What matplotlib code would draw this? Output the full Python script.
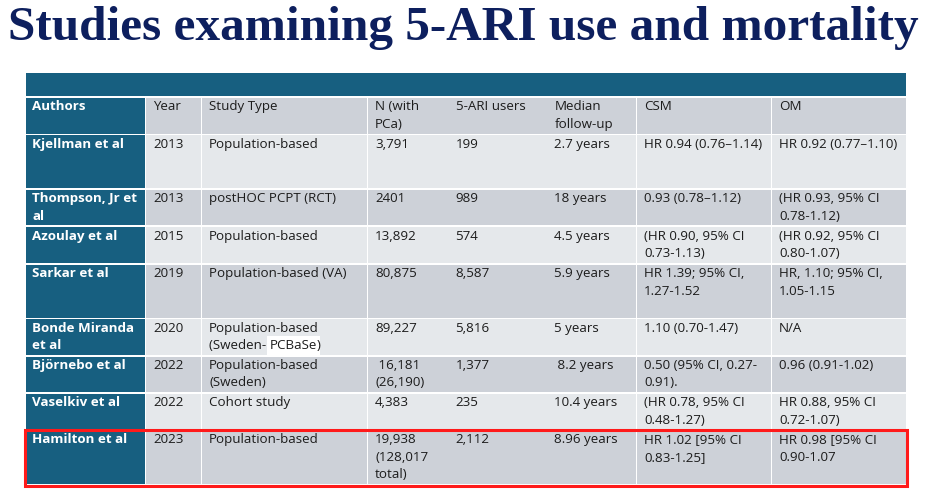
"""Table slide: studies examining 5-ARI use and mortality."""
import matplotlib
matplotlib.use("Agg")
import matplotlib.pyplot as plt
from matplotlib.patches import Rectangle

TITLE = "Studies examining 5-ARI use and mortality"

headers = ["Authors", "Year", "Study Type", "N (with\nPCa)", "5-ARI users",
           "Median\nfollow-up", "CSM", "OM"]
authors = ["Kjellman et al", "Thompson, Jr et\nal", "Azoulay et al", "Sarkar et al",
           "Bonde Miranda\net al", "Björnebo et al", "Vaselkiv et al", "Hamilton et al"]
years = ["2013", "2013", "2015", "2019", "2020", "2022", "2022", "2023"]
study_type = ["Population-based", "postHOC PCPT (RCT)", "Population-based",
              "Population-based (VA)", "Population-based\n(Sweden- [PCBaSe])",
              "Population-based\n(Sweden)", "Cohort study", "Population-based"]
n_pca = ["3,791", "2401", "13,892", "80,875", "89,227", " 16,181\n(26,190)",
         "4,383", "19,938\n(128,017\ntotal)"]
ari_users = ["199", "989", "574", "8,587", "5,816", "1,377", "235", "2,112"]
follow_up = ["2.7 years", "18 years", "4.5 years", "5.9 years", "5 years",
             " 8.2 years", "10.4 years", "8.96 years"]
csm = ["HR 0.94 (0.76–1.14)", "0.93 (0.78–1.12)", "(HR 0.90, 95% CI\n0.73-1.13)",
       "HR 1.39; 95% CI,\n1.27-1.52", "1.10 (0.70-1.47)",
       "0.50 (95% CI, 0.27-\n0.91).", "(HR 0.78, 95% CI\n0.48-1.27)",
       "HR 1.02 [95% CI\n0.83-1.25]"]
om = ["HR 0.92 (0.77–1.10)", "(HR 0.93, 95% CI\n0.78-1.12)", "(HR 0.92, 95% CI\n0.80-1.07)",
      "HR, 1.10; 95% CI,\n1.05-1.15", "N/A", "0.96 (0.91-1.02)",
      "HR 0.88, 95% CI\n0.72-1.07)", "HR 0.98 [95% CI\n0.90-1.07"]
highlight = "Hamilton et al"

# layout in pixels (figure is 936 x 500)
col_edges = [26, 145, 201, 367, 447.5, 546.5, 636, 771, 905.5]
row_edges = [97, 134.5, 189, 226.2, 264, 318.3, 355.7, 393, 430, 484.5]

TEAL = "#175f80"
DARK = "#cdd1d8"
LIGHT = "#e5e8eb"
NAVY = "#0d1f5e"
INK = "#1c1c1c"
GAP = 1.6
FS = 9.6
BASE = 13.4      # first baseline below the row top
PITCH = 17.3     # line pitch
plt.rcParams["font.family"] = ["Open Sans", "DejaVu Sans"]

rows = [headers] + [list(r) for r in zip(authors, years, study_type, n_pca,
                                         ari_users, follow_up, csm, om)]

fig = plt.figure(figsize=(9.36, 5.0), dpi=100)
ax = fig.add_axes([0, 0, 1, 1])
ax.set_xlim(0, 936)
ax.set_ylim(500, 0)
ax.axis("off")

ax.text(8, 40, TITLE, fontsize=35.5, fontweight="bold", color=NAVY,
        family=["Liberation Serif"], va="baseline", ha="left")

# top banner
ax.add_patch(Rectangle((col_edges[0], 72.5), col_edges[-1] - col_edges[0], 23,
                       facecolor=TEAL, edgecolor="none"))


def cell_text(x, y, txt, **kw):
    for k, line in enumerate(txt.split("\n")):
        yy = y + BASE + k * PITCH
        if "[" in line and line.endswith("])"):
            # word pasted with a white background in the source slide
            pre, rest = line.split("[")
            t = ax.text(x, yy, pre, fontsize=FS, color=INK, va="baseline", ha="left")
            t = ax.annotate(rest[:-2], xy=(1, 0), xycoords=t, fontsize=FS, color=INK,
                            va="bottom", ha="left",
                            bbox=dict(facecolor="white", edgecolor="none", pad=2.0))
            ax.annotate(")", xy=(1, 0), xycoords=t, fontsize=FS, color=INK,
                        va="bottom", ha="left")
        else:
            ax.text(x, yy, line, fontsize=FS, va="baseline", ha="left", **kw)


for i, row in enumerate(rows):
    y0, y1 = row_edges[i], row_edges[i + 1]
    fill = DARK if i % 2 == 0 else LIGHT
    for j, txt in enumerate(row):
        x0, x1 = col_edges[j], col_edges[j + 1]
        fc = TEAL if j == 0 else fill
        ax.add_patch(Rectangle((x0 + (0 if j == 0 else GAP / 2), y0 + GAP / 2),
                               x1 - x0 - (0 if j == 0 else GAP / 2), y1 - y0 - GAP,
                               facecolor=fc, edgecolor="none"))
        if j == 0:
            cell_text(x0 + 6.5, y0, txt, fontweight="bold", color="white")
        else:
            cell_text(x0 + 8, y0, txt, color=INK)

# red box around the highlighted study
k = authors.index(highlight) + 1
ax.add_patch(Rectangle((24.5, row_edges[k]), col_edges[-1] + 1.5 - 24.5,
                       row_edges[k + 1] + 1.5 - row_edges[k],
                       facecolor="none", edgecolor="#ff1a1a", lw=2.2))

fig.savefig("out.png", dpi=100)
